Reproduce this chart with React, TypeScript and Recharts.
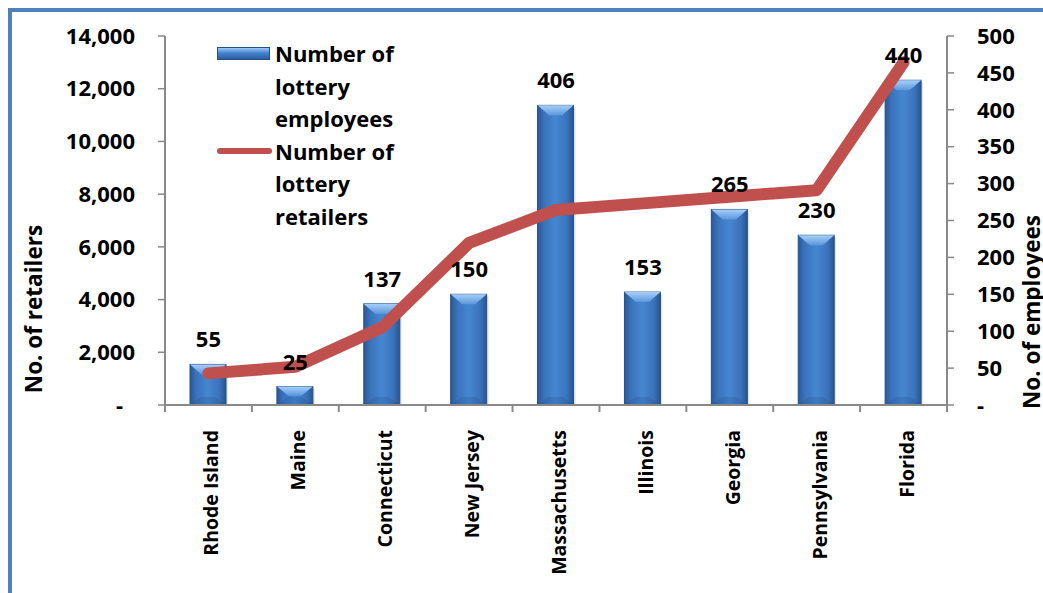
import { Bar, ComposedChart, LabelList, Legend, Line, XAxis, YAxis } from 'recharts'

const states = [
  'Rhode Island',
  'Maine',
  'Connecticut',
  'New Jersey',
  'Massachusetts',
  'Illinois',
  'Georgia',
  'Pennsylvania',
  'Florida',
]
const employees = [55, 25, 137, 150, 406, 153, 265, 230, 440]
const retailers = [1200, 1450, 2950, 6150, 7400, 7650, 7900, 8150, 13000]
const retailerTicks = [0, 2000, 4000, 6000, 8000, 10000, 12000, 14000]
const employeeTicks = [0, 50, 100, 150, 200, 250, 300, 350, 400, 450, 500]

const data = states.map((state, i) => ({
  state,
  employees: employees[i],
  retailers: retailers[i],
}))

const FONT = '"Open Sans", Lato, sans-serif'
const GREY = '#898989'
const RED = '#c0504d'
const BORDER = '#4f81bd'

const CHART_W = 1035
const CHART_H = 585
const LEFT_AXIS_W = 157
const RIGHT_AXIS_W = 96
const X_AXIS_H = 188
const X_TICK_MARGIN = 25
const HALF_BAND = (CHART_W - LEFT_AXIS_W - RIGHT_AXIS_W) / states.length / 2

function BevelBar(props: any) {
  const { x, y, width, height } = props
  if (!height || height <= 0) return null
  const bevel = Math.min(10, height / 2)
  return (
    <g>
      <rect x={x + 2} y={y + 2} width={width} height={height - 2} fill="rgba(0,0,0,0.10)" />
      <rect x={x} y={y} width={width} height={height} fill="url(#barBody)" stroke="#24508a" strokeWidth={1} />
      <polygon
        points={`${x},${y} ${x + width},${y} ${x + width * 0.68},${y + bevel} ${x + width * 0.32},${y + bevel}`}
        fill="url(#barTop)"
      />
      <polygon
        points={`${x},${y + height} ${x + width},${y + height} ${x + width * 0.7},${y + height - 8} ${x + width * 0.3},${y + height - 8}`}
        fill="rgba(10,30,70,0.12)"
      />
    </g>
  )
}

function RetailerTick({ x, y, payload }: any) {
  const zero = payload.value === 0
  return (
    <text x={zero ? x - 12 : x} y={y} dy="0.35em" textAnchor="end" fontFamily={FONT} fontWeight={700} fontSize={22} fill="#000">
      {zero ? '-' : Number(payload.value).toLocaleString('en-US')}
    </text>
  )
}

function EmployeeTick({ x, y, payload }: any) {
  return (
    <text x={x} y={y} dy="0.35em" textAnchor="start" fontFamily={FONT} fontWeight={700} fontSize={22} fill="#000">
      {payload.value === 0 ? '-' : payload.value}
    </text>
  )
}

function StateTick({ x, y, payload, index }: any) {
  const axisY = y - X_TICK_MARGIN
  const bx = x + 10
  return (
    <g>
      <line x1={x - HALF_BAND} x2={x - HALF_BAND} y1={axisY} y2={axisY + 7} stroke={GREY} strokeWidth={2} />
      {index === states.length - 1 && (
        <line x1={x + HALF_BAND} x2={x + HALF_BAND} y1={axisY} y2={axisY + 7} stroke={GREY} strokeWidth={2} />
      )}
      <text
        x={bx}
        y={y}
        transform={`rotate(-90, ${bx}, ${y})`}
        textAnchor="end"
        fontFamily={FONT}
        fontWeight={700}
        fontSize={19.5}
        fill="#000"
      >
        {payload.value}
      </text>
    </g>
  )
}

function AxisTitle({ titleX, titleY, title }: any) {
  return (
    <text
      x={titleX}
      y={titleY}
      transform={`rotate(-90, ${titleX}, ${titleY})`}
      textAnchor="middle"
      fontFamily={FONT}
      fontWeight={700}
      fontSize={22.5}
      fill="#000"
    >
      {title}
    </text>
  )
}

function renderLegend() {
  const text = { width: 125, marginLeft: 5 }
  return (
    <div style={{ fontFamily: FONT, fontWeight: 700, fontSize: 22, lineHeight: '32.6px', color: '#000' }}>
      <div style={{ display: 'flex', alignItems: 'flex-start' }}>
        <div
          style={{
            width: 53,
            height: 13,
            marginTop: 10,
            background: 'linear-gradient(#9cc8f7, #4584d0 45%, #2d5e9e)',
            border: '1px solid #24508a',
            boxSizing: 'border-box',
          }}
        />
        <span style={text}>Number of lottery employees</span>
      </div>
      <div style={{ display: 'flex', alignItems: 'flex-start' }}>
        <div style={{ width: 55, height: 6, marginTop: 13, background: RED, borderRadius: 3 }} />
        <span style={{ ...text, marginLeft: 3 }}>Number of lottery retailers</span>
      </div>
    </div>
  )
}

export default function App() {
  return (
    <div
      style={{
        position: 'fixed',
        left: 8,
        top: 8,
        width: CHART_W,
        height: CHART_H,
        overflow: 'hidden',
        background: '#fff',
      }}
    >
      <ComposedChart
        width={CHART_W}
        height={CHART_H}
        data={data}
        margin={{ top: 28, right: 0, bottom: 0, left: 0 }}
      >
        <defs>
          <linearGradient id="barBody" x1="0" y1="0" x2="1" y2="0">
            <stop offset="0%" stopColor="#2b5894" />
            <stop offset="18%" stopColor="#3a73bb" />
            <stop offset="50%" stopColor="#4686d1" />
            <stop offset="82%" stopColor="#3a73bb" />
            <stop offset="100%" stopColor="#29548e" />
          </linearGradient>
          <linearGradient id="barTop" x1="0" y1="0" x2="0" y2="1">
            <stop offset="0%" stopColor="#a6cff8" />
            <stop offset="100%" stopColor="#5b97dc" />
          </linearGradient>
        </defs>
        <XAxis
          dataKey="state"
          interval={0}
          height={X_AXIS_H}
          axisLine={{ stroke: GREY, strokeWidth: 2 }}
          tickLine={false}
          tickSize={0}
          tickMargin={X_TICK_MARGIN}
          tick={<StateTick />}
        />
        <YAxis
          yAxisId="left"
          orientation="left"
          width={LEFT_AXIS_W}
          domain={[0, 14000]}
          ticks={retailerTicks}
          interval={0}
          axisLine={{ stroke: GREY, strokeWidth: 2 }}
          tickLine={{ stroke: GREY, strokeWidth: 1.5 }}
          tickSize={7}
          tickMargin={23}
          tick={<RetailerTick />}
          label={<AxisTitle titleX={34} titleY={301} title="No. of retailers" />}
        />
        <YAxis
          yAxisId="right"
          orientation="right"
          width={RIGHT_AXIS_W}
          domain={[0, 500]}
          ticks={employeeTicks}
          interval={0}
          axisLine={{ stroke: GREY, strokeWidth: 2 }}
          tickLine={{ stroke: GREY, strokeWidth: 1.5 }}
          tickSize={7}
          tickMargin={23}
          tick={<EmployeeTick />}
          label={<AxisTitle titleX={1032} titleY={304} title="No. of employees" />}
        />
        <Legend
          layout="vertical"
          align="center"
          verticalAlign="middle"
          content={renderLegend}
          wrapperStyle={{ left: 209, top: 29, width: 'auto' }}
        />
        <Bar
          yAxisId="right"
          dataKey="employees"
          name="Number of lottery employees"
          barSize={36}
          shape={<BevelBar />}
          isAnimationActive={false}
        />
        <Line
          yAxisId="left"
          type="linear"
          dataKey="retailers"
          name="Number of lottery retailers"
          stroke={RED}
          strokeWidth={12}
          strokeLinecap="round"
          strokeLinejoin="round"
          dot={false}
          activeDot={false}
          isAnimationActive={false}
        />
        <Line
          yAxisId="right"
          dataKey="employees"
          stroke="none"
          dot={false}
          activeDot={false}
          legendType="none"
          isAnimationActive={false}
        >
          <LabelList
            dataKey="employees"
            position="top"
            offset={17}
            fill="#000"
            fontFamily={FONT}
            fontWeight={700}
            fontSize={22}
          />
        </Line>
      </ComposedChart>
      <div style={{ position: 'absolute', left: 0, top: 0, width: CHART_W, height: 4, background: BORDER }} />
      <div style={{ position: 'absolute', left: 0, top: 0, width: 4, height: CHART_H, background: BORDER }} />
    </div>
  )
}
